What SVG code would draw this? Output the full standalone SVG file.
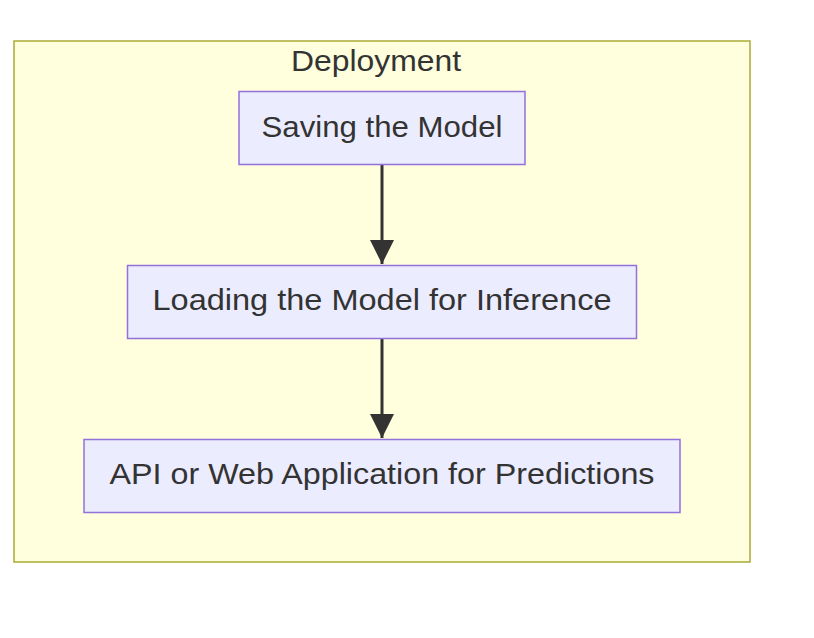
<svg xmlns="http://www.w3.org/2000/svg" width="814" height="638" viewBox="0 0 814 638">
<defs>
<style>
.cluster{fill:#ffffde;stroke:#aaaa33;stroke-width:1.5}
.node rect{fill:#ececff;stroke:#9370db;stroke-width:1.5}
text{font-family:"Liberation Sans",Arial,sans-serif;font-size:29px;fill:#333333;text-anchor:middle}
.edge{stroke:#333333;stroke-width:3;fill:none}
</style>
<marker id="arrow" viewBox="0 0 10 10" refX="10" refY="5" markerUnits="userSpaceOnUse" markerWidth="24" markerHeight="24" orient="auto">
<path d="M0,0 L10,5 L0,10 z" fill="#333333"/>
</marker>
</defs>
<rect width="814" height="638" fill="#ffffff"/>
<g id="cluster-deployment">
<rect class="cluster" x="14" y="41" width="736" height="521"/>
<text x="376" y="71" textLength="170" lengthAdjust="spacingAndGlyphs">Deployment</text>
</g>
<g id="edges">
<path class="edge" d="M382,165 L382,264" marker-end="url(#arrow)"/>
<path class="edge" d="M382,339 L382,438" marker-end="url(#arrow)"/>
</g>
<g id="node-saving" class="node">
<rect x="239" y="91.5" width="286" height="73"/>
<text x="382" y="137" textLength="241" lengthAdjust="spacingAndGlyphs">Saving the Model</text>
</g>
<g id="node-loading" class="node">
<rect x="127.5" y="265.5" width="509" height="73"/>
<text x="382" y="310" textLength="459" lengthAdjust="spacingAndGlyphs">Loading the Model for Inference</text>
</g>
<g id="node-api" class="node">
<rect x="84" y="439.5" width="596" height="73"/>
<text x="382" y="484" textLength="545" lengthAdjust="spacingAndGlyphs">API or Web Application for Predictions</text>
</g>
</svg>
